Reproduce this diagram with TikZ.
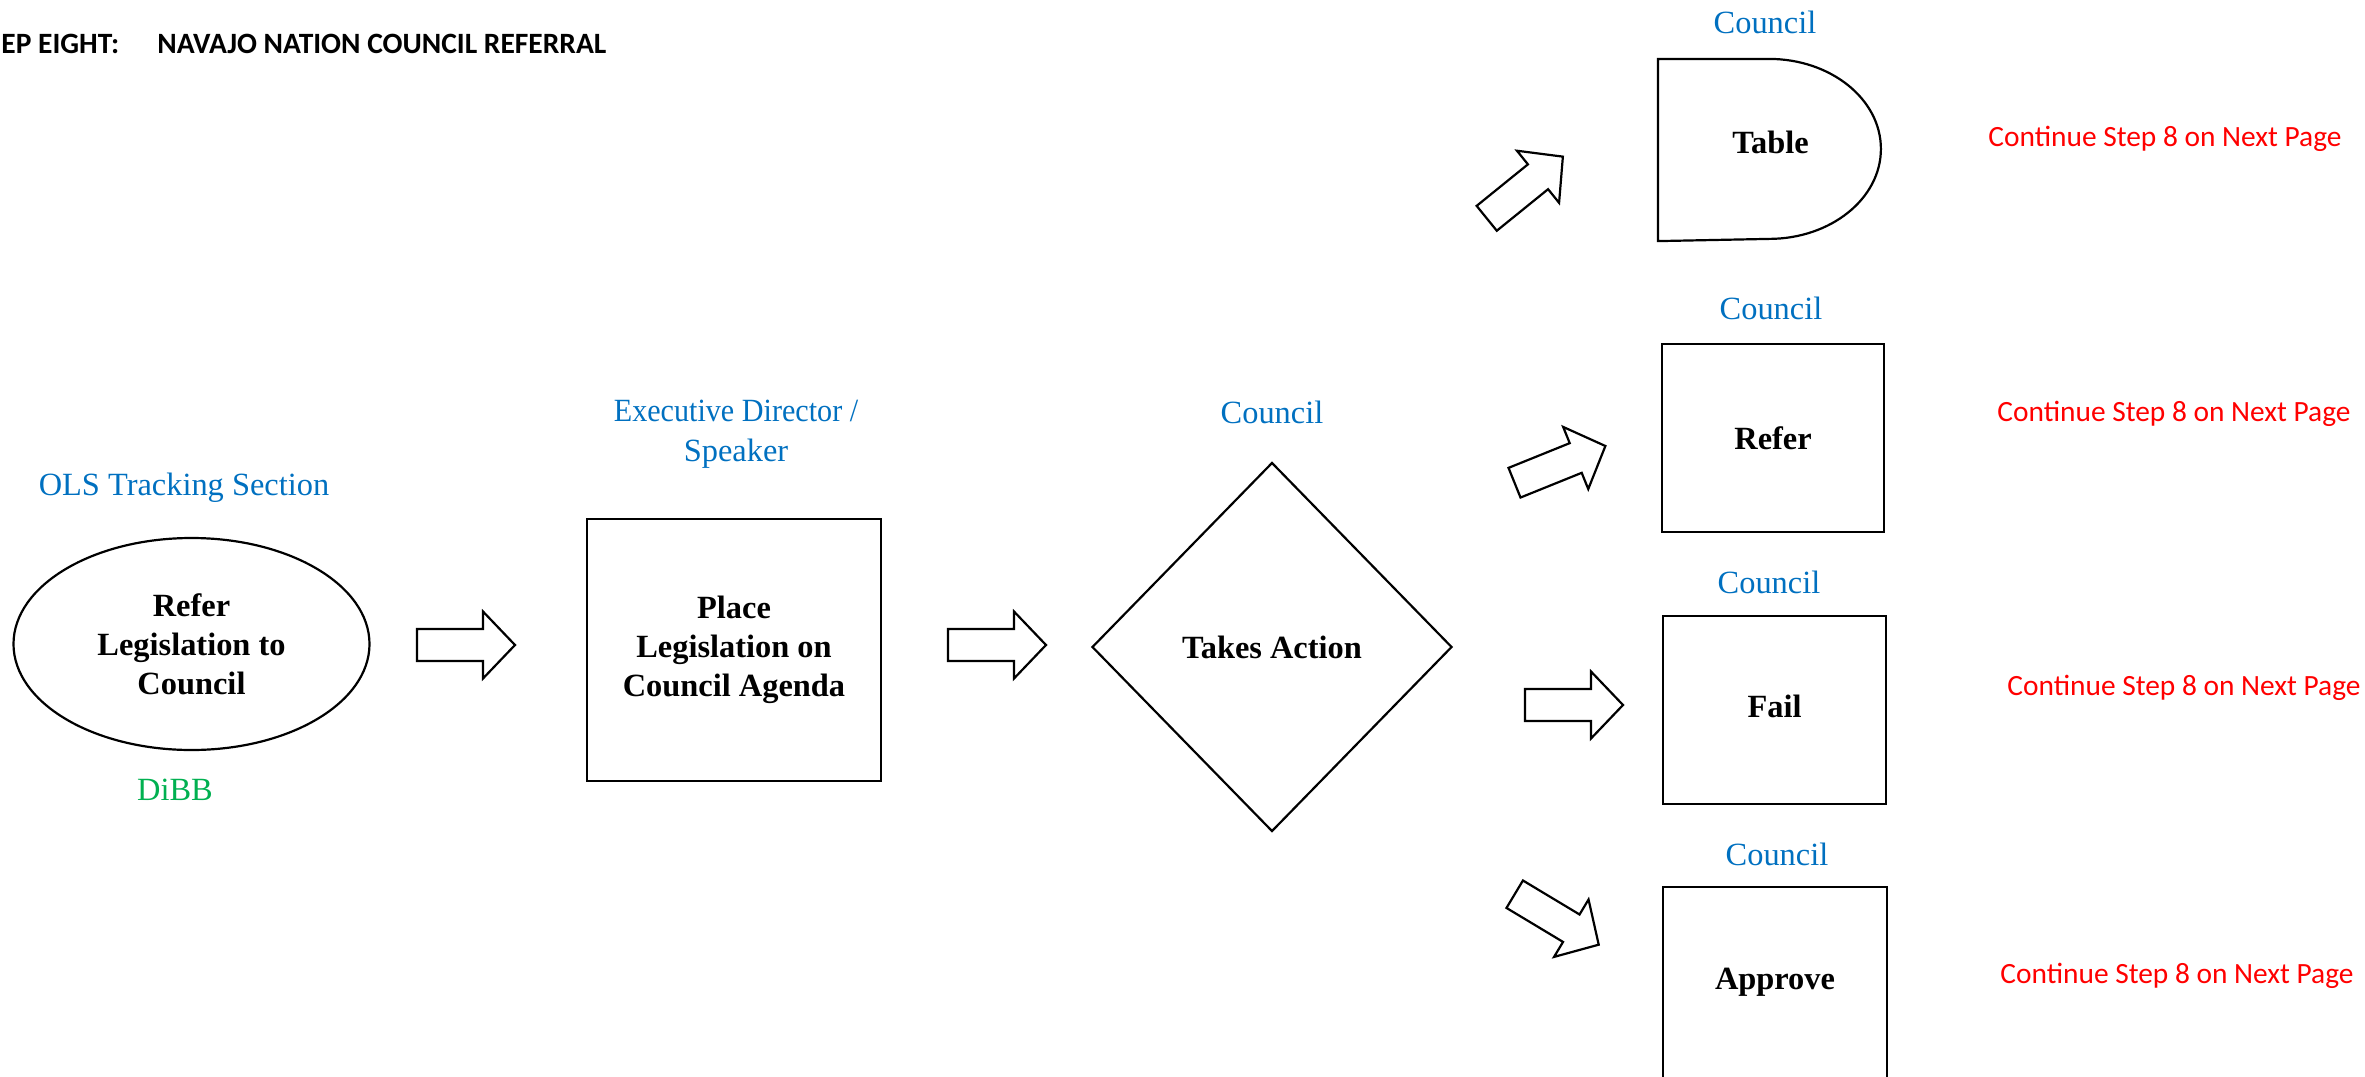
\documentclass[tikz,border=0pt]{standalone}
\usepackage{fontspec}
\usepackage{graphicx}
\setmainfont{Liberation Serif}
\newfontfamily\calibri{Carlito}
\usetikzlibrary{shapes.geometric}
\definecolor{wblue}{RGB}{0,112,192}
\definecolor{wgreen}{RGB}{0,176,80}
\definecolor{wred}{RGB}{255,0,0}
\tikzset{
  txt/.style={font=\fontsize{16.2pt}{19.5pt}\selectfont},
  boxtxt/.style={font=\fontsize{16.2pt}{19.5pt}\selectfont\bfseries},
  role/.style={txt, text=wblue, anchor=base, inner sep=0pt},
  fbox/.style={draw, line width=1.1pt, inner sep=0pt, boxtxt, align=center},
  contd/.style={font=\calibri\fontsize{14.7pt}{18pt}\selectfont, text=wred, anchor=base west, inner sep=0pt},
  ttl/.style={font=\calibri\bfseries\fontsize{14.75pt}{18pt}\selectfont, inner sep=0pt},
  blockarrow/.pic={\draw[line width=1.1pt, fill=white] (0,-16) -- (66,-16) -- (66,-33.5) -- (98,0) -- (66,33.5) -- (66,16) -- (0,16) -- cycle;}
}
\begin{document}
\begin{tikzpicture}[x=0.5pt,y=-0.5pt]
\useasboundingbox (0,0) rectangle (2365,1076);

% title
\node[ttl, anchor=base west] (t1) at (1,54) {EP EIGHT:};
\node[ttl, anchor=base west] (t2) at (157,54) {NAVAJO NATION COUNCIL REFERRAL};

% main flow
\node[fbox, ellipse, minimum width=178pt, minimum height=106pt] (refer) at (191.5,644) {Refer\\Legislation to\\Council};
\node[role] (rl1) at (184,495) {OLS Tracking Section};
\node[role, text=wgreen] (rl2) at (175,800) {DiBB};

\node[fbox, minimum width=147pt, minimum height=131pt] (place) at (734,650) {Place\\Legislation on\\Council Agenda};
\node[txt, text=wblue, anchor=north, inner sep=0pt, align=center, font=\fontsize{16.2pt}{20pt}\selectfont] (rl3) at (736,400) {\scalebox{0.93}[1]{Executive Director /}\\Speaker};

\node[fbox, diamond, minimum width=180pt, minimum height=184.5pt] (action) at (1272,647) {Takes Action};
\node[role] (rl4) at (1272,423) {Council};

% outcomes
\node[fbox, draw=none, minimum width=111.5pt, minimum height=90pt, text depth=8pt] (table) at (1770.5,150) {Table};
\draw[line width=1.1pt] (table.north west) -- ++(111,0) arc[start angle=90,end angle=-90,x radius=56pt,y radius=45pt] -- (table.south west) -- cycle;
\node[role] (rl5) at (1765,33) {Council};

\node[fbox, minimum width=111pt, minimum height=94pt] (refer2) at (1773,438) {Refer};
\node[role] (rl6) at (1771,319) {Council};

\node[fbox, minimum width=111.5pt, minimum height=94pt, text depth=4pt] (fail) at (1774.5,710) {Fail};
\node[role] (rl7) at (1769,593) {Council};

\node[fbox, draw=none, minimum width=111pt, minimum height=94pt] (approve) at (1775,982) {Approve};
\draw[line width=1.1pt] (approve.south west) -- (approve.north west) -- (approve.north east) -- (approve.south east);
\node[role] (rl8) at (1777,865) {Council};

% continue notes
\node[contd] (c1) at (1988,146) {Continue Step 8 on Next Page};
\node[contd] (c2) at (1997,421) {Continue Step 8 on Next Page};
\node[contd] (c3) at (2007,695) {Continue Step 8 on Next Page};
\node[contd] (c4) at (2000,983) {Continue Step 8 on Next Page};

% block arrows
\coordinate (a1) at (417,645);
\coordinate (a2) at (948,645);
\coordinate (a3) at (1486.7,218.3);
\coordinate (a4) at (1514.5,482.7);
\coordinate (a5) at (1525,705);
\coordinate (a6) at (1514.7,894.2);
\pic at (a1) {blockarrow};
\pic at (a2) {blockarrow};
\pic[rotate=39] at (a3) {blockarrow};
\pic[rotate=22] at (a4) {blockarrow};
\pic at (a5) {blockarrow};
\pic[rotate=-31] at (a6) {blockarrow};
\end{tikzpicture}
\end{document}
